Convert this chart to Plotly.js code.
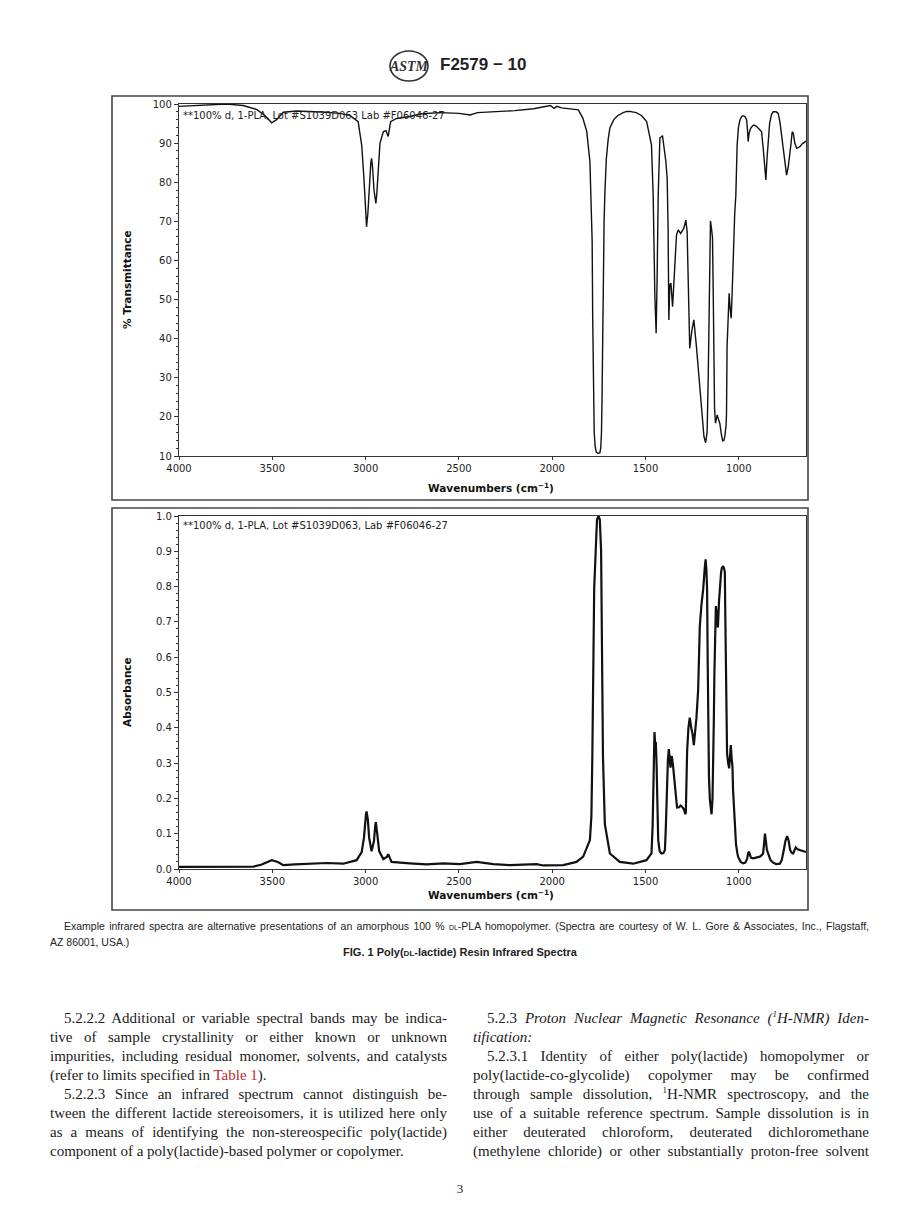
<!DOCTYPE html>
<html><head><meta charset="utf-8">
<script src="https://cdn.plot.ly/plotly-3.0.1.min.js"></script>
<style>
html,body{margin:0;padding:0;background:#fff;}
#page{position:relative;width:920px;height:1232px;overflow:hidden;background:#fff;}
#chart{position:absolute;left:0;top:0;width:920px;height:1232px;}
.abs{position:absolute;z-index:5;}
.col{position:absolute;z-index:5;font-family:"Liberation Serif","Times New Roman",serif;font-size:15px;color:#1a1a1a;}
.ln{height:19px;line-height:19px;white-space:nowrap;text-align:justify;text-align-last:justify;overflow:visible;}
.ln.end{text-align-last:left;text-align:left;}
.ind{text-indent:14px;}
.sc{font-variant:small-caps;}
.sup{font-size:9px;line-height:0;vertical-align:baseline;position:relative;top:-6px;}
.cap{position:absolute;z-index:5;font-family:"Liberation Sans",Arial,sans-serif;font-size:10.5px;color:#222;}
.cap .ln{height:16px;line-height:16px;}
</style>
</head><body>
<div id="page">
<div id="chart"></div>

<div class="abs" style="left:385px;top:48px;width:50px;height:36px;">
<svg width="50" height="36" viewBox="0 0 50 36">
<ellipse cx="24" cy="18" rx="19" ry="15" fill="none" stroke="#333" stroke-width="1.6"/>
<text x="24" y="23" text-anchor="middle" font-family="Liberation Serif" font-style="italic" font-weight="bold" font-size="14" fill="#333">ASTM</text>
</svg>
</div>
<div class="abs" style="left:440px;top:55px;font-family:'Liberation Sans',Arial,sans-serif;font-weight:bold;font-size:17px;color:#222;">F2579 − 10</div>

<div class="cap" style="left:50px;top:918px;width:819px;">
<div class="ln ind">Example infrared spectra are alternative presentations of an amorphous 100 % <span class="sc">dl</span>-PLA homopolymer. (Spectra are courtesy of W. L. Gore &amp; Associates, Inc., Flagstaff,</div>
<div class="ln end">AZ 86001, USA.)</div>
</div>
<div class="abs" style="left:0;width:920px;top:946px;text-align:center;font-family:'Liberation Sans',Arial,sans-serif;font-weight:bold;font-size:11px;color:#222;">FIG. 1 Poly(<span class="sc">dl</span>-lactide) Resin Infrared Spectra</div>

<div class="col" style="left:50px;top:1009px;width:397px;">
<div class="ln ind">5.2.2.2 Additional or variable spectral bands may be indica-</div>
<div class="ln">tive of sample crystallinity or either known or unknown</div>
<div class="ln">impurities, including residual monomer, solvents, and catalysts</div>
<div class="ln end">(refer to limits specified in <span style="color:#c0282d">Table 1</span>).</div>
<div class="ln ind">5.2.2.3 Since an infrared spectrum cannot distinguish be-</div>
<div class="ln">tween the different lactide stereoisomers, it is utilized here only</div>
<div class="ln">as a means of identifying the non-stereospecific poly(lactide)</div>
<div class="ln end">component of a poly(lactide)-based polymer or copolymer.</div>
</div>
<div class="col" style="left:473px;top:1009px;width:396px;">
<div class="ln ind">5.2.3 <i>Proton Nuclear Magnetic Resonance (<span class="sup">1</span>H-NMR) Iden-</i></div>
<div class="ln end"><i>tification:</i></div>
<div class="ln ind">5.2.3.1 Identity of either poly(lactide) homopolymer or</div>
<div class="ln">poly(lactide-co-glycolide) copolymer may be confirmed</div>
<div class="ln">through sample dissolution, <span class="sup">1</span>H-NMR spectroscopy, and the</div>
<div class="ln">use of a suitable reference spectrum. Sample dissolution is in</div>
<div class="ln">either deuterated chloroform, deuterated dichloromethane</div>
<div class="ln">(methylene chloride) or other substantially proton-free solvent</div>
</div>
<div class="abs" style="left:0;width:920px;top:1181px;text-align:center;font-family:'Liberation Serif',serif;font-size:13px;color:#222;">3</div>
</div>

<script>
// ---------- data ----------
const xTicks = [4000, 3500, 3000, 2500, 2000, 1500, 1000];
const sampleLabelTop = "**100% d, 1-PLA, Lot #S1039D063 Lab #F06046-27";
const sampleLabelBottom = "**100% d, 1-PLA, Lot #S1039D063, Lab #F06046-27";

const wavenumberT = [4000,3900,3830,3745,3656,3584,3539,3503,3477,3441,3370,3300,3209,3140,3084,3040,3021,3009,2998,2995,2988,2980,2972,2968,2963,2955,2948,2945,2940,2930,2923,2905,2891,2879,2866,2834,2763,2700,2600,2500,2440,2400,2300,2200,2100,2050,2010,1990,1975,1950,1900,1860,1836,1815,1798,1790,1786,1783,1780,1775,1770,1764,1755,1745,1740,1736,1733,1730,1727,1722,1718,1710,1700,1691,1670,1650,1620,1600,1584,1550,1520,1494,1468,1459,1450,1445,1443,1438,1432,1423,1409,1391,1384,1379,1375,1370,1364,1355,1346,1343,1334,1325,1312,1295,1284,1277,1271,1263,1252,1241,1227,1218,1213,1200,1187,1178,1170,1164,1158,1152,1146,1141,1137,1134,1130,1125,1120,1116,1110,1102,1095,1087,1080,1075,1068,1066,1063,1057,1052,1047,1041,1037,1034,1030,1022,1016,1009,1002,994,985,977,967,958,953,950,945,937,925,919,905,896,885,878,870,865,855,849,843,835,825,816,800,789,780,771,760,750,744,735,726,720,714,708,700,690,680,673,660,646,640];
const transmittance = [99.4,99.6,99.7,100,99.6,98.6,97.0,95.2,96.0,97.9,98.2,98.1,97.9,97.6,97.1,95.5,89.5,81,71.6,68.6,72,80,85,86.1,84,78,76,74.6,77,86,90,92.9,93.2,91.7,95.5,96.3,96.8,97.5,97.8,97.6,97.2,97.8,98.0,98.3,98.8,99.2,99.6,98.9,99.4,99.0,98.8,98.5,96.4,93,85.3,75,65,45,28,16,12.5,11,10.7,10.8,12,16,25,40,55,70,77,86,91,93.9,96,97,97.8,98.1,98.1,97.8,97,95.5,89.5,76.7,51,44.8,41.4,55,76.7,91.3,91.9,85.3,81,68.3,44.8,53.7,54.2,48.2,55,59.7,66.5,67.8,66.9,68.2,70.3,67.4,51,37.5,42,44.8,37.9,32.8,27.7,20.9,15,13.4,16,30,50,70.1,68,65.7,51,30,22,18.4,19.5,20.5,19.5,18.4,16,13.9,14,15,18,20.9,37.9,46.5,51.6,48,45.2,50,55,64.8,72,76.7,89.5,94,95.9,96.8,97,96.8,95.9,93,90.4,92.5,93.8,94.5,94.6,94.3,93.8,93.3,92.9,89,85.3,80.6,86,91.2,95,97.3,98,98,97.6,95.5,92,87,83,81.8,84,87,90,92.9,92.5,90,88.7,88.9,89.1,89.8,90.4,90.5];

const wavenumberA = [4000,3700,3600,3560,3503,3470,3441,3380,3298,3209,3120,3093,3048,3021,3009,2998,2995,2988,2981,2968,2955,2948,2945,2940,2927,2905,2885,2879,2870,2861,2763,2673,2584,2495,2405,2316,2227,2137,2084,2048,2003,1941,1870,1834,1798,1790,1785,1781,1775,1766,1760,1752,1745,1738,1733,1730,1728,1718,1691,1638,1566,1495,1468,1462,1459,1455,1452,1448,1445,1441,1438,1432,1424,1414,1404,1396,1391,1387,1380,1375,1370,1366,1362,1359,1352,1343,1335,1331,1320,1312,1307,1295,1287,1284,1280,1277,1270,1263,1255,1248,1241,1234,1227,1218,1213,1209,1200,1191,1183,1178,1174,1170,1167,1164,1160,1155,1146,1141,1138,1134,1131,1127,1123,1118,1112,1106,1102,1095,1091,1084,1078,1075,1072,1070,1066,1063,1057,1052,1047,1043,1038,1034,1031,1026,1022,1015,1008,1004,990,977,965,955,950,945,940,935,923,905,887,876,870,865,860,855,850,843,830,816,800,780,770,759,750,741,733,725,717,709,702,695,685,673,655,640];
const absorbance = [0.006,0.006,0.007,0.012,0.025,0.02,0.011,0.013,0.015,0.017,0.015,0.018,0.025,0.048,0.088,0.155,0.163,0.14,0.088,0.05,0.08,0.125,0.133,0.11,0.05,0.028,0.035,0.042,0.03,0.02,0.016,0.013,0.016,0.014,0.02,0.014,0.011,0.014,0.014,0.01,0.01,0.011,0.02,0.035,0.082,0.15,0.318,0.49,0.795,0.913,0.99,1.0,0.99,0.9,0.68,0.465,0.318,0.127,0.044,0.02,0.015,0.025,0.044,0.12,0.223,0.33,0.388,0.35,0.36,0.3,0.2,0.082,0.05,0.044,0.045,0.054,0.12,0.223,0.31,0.34,0.3,0.287,0.31,0.32,0.29,0.24,0.19,0.174,0.175,0.18,0.178,0.17,0.155,0.16,0.26,0.334,0.40,0.429,0.40,0.382,0.351,0.39,0.429,0.507,0.622,0.688,0.75,0.792,0.85,0.877,0.85,0.792,0.6,0.4,0.26,0.195,0.155,0.2,0.268,0.42,0.55,0.68,0.745,0.72,0.684,0.76,0.802,0.84,0.853,0.858,0.85,0.84,0.7,0.603,0.45,0.327,0.30,0.285,0.32,0.351,0.31,0.29,0.224,0.16,0.11,0.07,0.045,0.035,0.02,0.016,0.018,0.03,0.045,0.049,0.04,0.032,0.03,0.032,0.035,0.04,0.044,0.07,0.1,0.08,0.055,0.044,0.025,0.018,0.014,0.015,0.025,0.054,0.08,0.093,0.08,0.054,0.046,0.044,0.052,0.061,0.056,0.054,0.05,0.048];

// ---------- layout ----------
const W = 920, H = 1232;
const px = v => v / W;
const py = v => 1 - v / H;
const axisCol = '#333';
const FONT = 'DejaVu Sans, Verdana, sans-serif';

function xAx(anchor) {
  return {
    domain: [px(179), px(806)], anchor: anchor, range: [4000, 640],
    tickmode: 'array', tickvals: xTicks, ticks: 'outside', ticklen: 3, tickcolor: axisCol,
    showline: true, mirror: true, linecolor: axisCol, linewidth: 1.2,
    showgrid: false, zeroline: false, tickfont: {family: FONT, size: 10, color: '#222'}
  };
}
function yAx(anchor, dom, range, dtick, minorDtick, fmt) {
  return {
    domain: dom, anchor: anchor, range: range, dtick: dtick, tickformat: fmt,
    ticks: 'outside', ticklen: 4, tickcolor: axisCol,
    minor: {dtick: minorDtick, ticks: 'outside', ticklen: 2, tickcolor: axisCol},
    showline: true, mirror: true, linecolor: axisCol, linewidth: 1.2,
    showgrid: false, zeroline: false, tickfont: {family: FONT, size: 10, color: '#222'}
  };
}

const traces = [
  {x: wavenumberT, y: transmittance, xaxis: 'x', yaxis: 'y', type: 'scatter', mode: 'lines',
   line: {color: '#111', width: 1.4}, hoverinfo: 'skip'},
  {x: wavenumberA, y: absorbance, xaxis: 'x2', yaxis: 'y2', type: 'scatter', mode: 'lines',
   line: {color: '#111', width: 2.2}, hoverinfo: 'skip'}
];

const boxLine = {color: '#444', width: 1.6};
const titleFont = {family: FONT, size: 10.5, color: '#111'};
const layout = {
  width: W, height: H, margin: {l: 0, r: 0, t: 0, b: 0},
  paper_bgcolor: '#fff', plot_bgcolor: '#fff', showlegend: false,
  font: {family: FONT, size: 10, color: '#222'},
  xaxis: xAx('y'),
  yaxis: yAx('x', [py(456), py(104)], [10, 100], 10, 2, 'd'),
  xaxis2: xAx('y2'),
  yaxis2: yAx('x2', [py(869), py(516)], [0, 1.0], 0.1, 0.02, '.1f'),
  shapes: [
    {type: 'rect', xref: 'paper', yref: 'paper', x0: px(112), x1: px(808), y0: py(500), y1: py(96), line: boxLine},
    {type: 'rect', xref: 'paper', yref: 'paper', x0: px(112), x1: px(808), y0: py(910), y1: py(508), line: boxLine}
  ],
  annotations: [
    {xref: 'paper', yref: 'paper', x: px(181), y: py(115), xanchor: 'left', yanchor: 'middle', showarrow: false,
     text: sampleLabelTop, font: {family: FONT, size: 10, color: '#222'}},
    {xref: 'paper', yref: 'paper', x: px(181), y: py(525), xanchor: 'left', yanchor: 'middle', showarrow: false,
     text: sampleLabelBottom, font: {family: FONT, size: 10, color: '#222'}},
    {xref: 'paper', yref: 'paper', x: px(491), y: py(488), xanchor: 'center', yanchor: 'middle', showarrow: false,
     text: '<b>Wavenumbers (cm<sup>−1</sup>)</b>', font: titleFont},
    {xref: 'paper', yref: 'paper', x: px(491), y: py(894), xanchor: 'center', yanchor: 'middle', showarrow: false,
     text: '<b>Wavenumbers (cm<sup>−1</sup>)</b>', font: titleFont},
    {xref: 'paper', yref: 'paper', x: px(127), y: py(280), xanchor: 'center', yanchor: 'middle', showarrow: false,
     textangle: -90, text: '<b>% Transmittance</b>', font: titleFont},
    {xref: 'paper', yref: 'paper', x: px(127), y: py(692), xanchor: 'center', yanchor: 'middle', showarrow: false,
     textangle: -90, text: '<b>Absorbance</b>', font: titleFont}
  ]
};

Plotly.newPlot('chart', traces, layout, {displayModeBar: false, staticPlot: true});
</script>
</body></html>
